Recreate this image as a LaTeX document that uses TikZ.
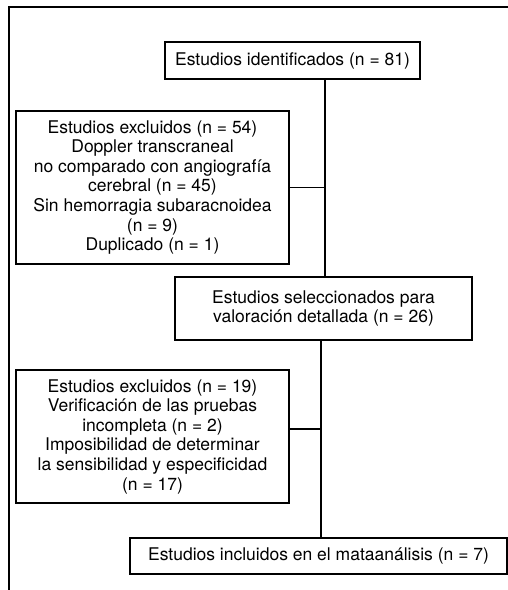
\documentclass[tikz,border=0pt]{standalone}
\usepackage{fontspec}
\setmainfont{TeX Gyre Heros}
\usetikzlibrary{positioning}
\tikzstyle{block} = [rectangle, draw, align=center, inner sep=0pt,
    line width=1.3pt, font=\fontsize{17.5}{19.6}\selectfont]
\tikzstyle{line} = [draw, line width=1.3pt]

\begin{document}
\begin{tikzpicture}[x=1pt,y=1pt]
  \useasboundingbox (0,0) rectangle (508,-590);

  \node[block, minimum width=255, minimum height=37] (ident) at (292.5,-60.5)
      {Estudios identificados (n = 81)};
  \node[block, minimum width=273, minimum height=153] (excl1) at (152.5,-187.5)
      {Estudios excluidos (n = 54)\\Doppler transcraneal\\no comparado con angiografía\\cerebral (n = 45)\\Sin hemorragia subaracnoidea\\(n = 9)\\Duplicado (n = 1)};
  \node[block, minimum width=297, minimum height=63] (selec) at (323.5,-308.5)
      {Estudios seleccionados para\\valoración detallada (n = 26)};
  \node[block, minimum width=273, minimum height=133] (excl2) at (152.5,-436.5)
      {Estudios excluidos (n = 19)\\Verificación de las pruebas\\incompleta (n = 2)\\Imposibilidad de determinar\\la sensibilidad y especificidad\\(n = 17)};
  \node[block, minimum width=377, minimum height=36] (incl) at (318.5,-556)
      {Estudios incluidos en el mataanálisis (n = 7)};

  % frame
  \coordinate (tr) at (508,-7);
  \coordinate (tl) at (9,-7);
  \coordinate (bl) at (9,-590);
  \path[line] (tr) -- (tl) -- (bl);

  % connectors
  \coordinate (j1) at (325,-187.5);
  \coordinate (j2) at (321,-429);
  \path[line] (ident.south -| j1) -- (selec.north -| j1)
              (excl1.east) -- (j1)
              (selec.south -| j2) -- (incl.north -| j2)
              (excl2.east |- j2) -- (j2);
\end{tikzpicture}
\end{document}
